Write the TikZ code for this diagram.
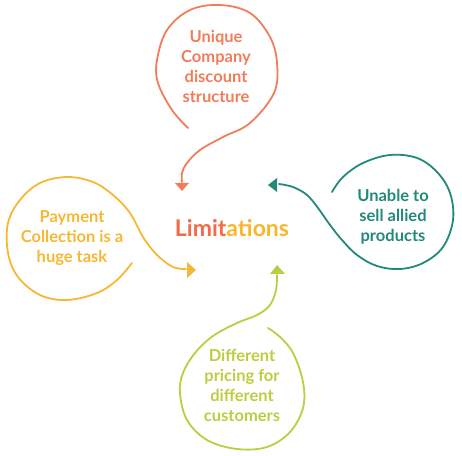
\documentclass[tikz,border=0pt]{standalone}
\usepackage{fontspec}
\setmainfont{Lato}
\definecolor{corange}{HTML}{F07D5C}
\definecolor{cyellow}{HTML}{F6B834}
\definecolor{cteal}{HTML}{23897A}
\definecolor{clime}{HTML}{BDCD40}
\definecolor{cred}{HTML}{F26A48}
\definecolor{cgold}{HTML}{F9B62A}
\begin{document}
\begin{tikzpicture}[x=1pt,y=1pt,
  loop/.style={line width=1.8pt, line cap=round, line join=round},
  lbl/.style={font=\fontsize{16.5}{20}\selectfont\bfseries, align=center}]
\useasboundingbox (0,0) rectangle (462,455);
% top (orange)
\draw[loop, corange] plot[smooth, tension=0.6] coordinates {(188,327) (172,345) (158,372) (157,395) (167,425) (190,445) (220,450) (250,442) (270,418) (277,392) (274,362) (250,332) (223,318) (200,305) (187,292) (182,282) (182,273)};
\fill[corange] (175,272) -- (189,272) -- (182,264) -- cycle;
\node[lbl, text=corange] (t1) at (216,389) {Unique\\Company\\discount\\structure};
% right (teal)
\draw[loop, cteal] plot[smooth, tension=0.6] coordinates {(332,263) (343,278) (363,292) (390,300) (417,297) (437,283) (450,262) (453,235) (443,208) (423,192) (400,186) (377,189) (357,200) (342,215) (330,230) (318,247) (307,260) (293,268) (279,271)};
\fill[cteal] (277,277) -- (277,263) -- (268,270) -- cycle;
\node[lbl, text=cteal] (t2) at (393,238) {Unable to\\sell allied\\products};
% left (yellow)
\draw[loop, cyellow] plot[smooth, tension=0.6] coordinates {(132,192) (117,175) (97,162) (67,155) (40,160) (18,178) (8,202) (8,232) (20,255) (40,272) (67,278) (93,273) (113,260) (130,242) (143,218) (157,200) (173,188) (186,186)};
\fill[cyellow] (187,193) -- (187,177) -- (196,185) -- cycle;
\node[lbl, text=cyellow] (t3) at (72,217) {Payment\\Collection is a\\huge task};
% bottom (lime)
\draw[loop, clime] plot[smooth, tension=0.6] coordinates {(268,127) (280,118) (293,102) (303,73) (303,47) (290,23) (267,8) (237,6) (207,15) (187,35) (180,62) (183,82) (195,102) (213,119) (237,132) (257,140) (270,150) (276,165) (277,180)};
\fill[clime] (270,181) -- (285,181) -- (277,190) -- cycle;
\node[lbl, text=clime] (t4) at (242,70) {Different\\pricing for\\different\\customers};
% center
\node[font=\fontsize{23}{26}\selectfont\bfseries] (c) at (232,227) {\textcolor{cred}{Limit}\textcolor{cgold}{ations}};
\end{tikzpicture}
\end{document}
